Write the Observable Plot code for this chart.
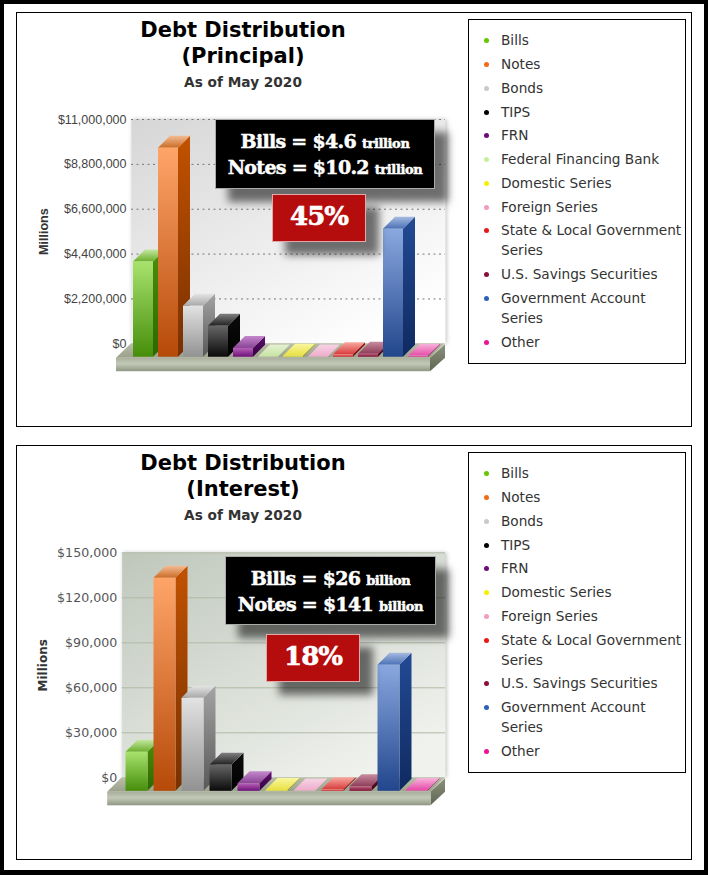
<!DOCTYPE html>
<html>
<head>
<meta charset="utf-8">
<script src="https://cdn.jsdelivr.net/npm/d3@7"></script>
<script src="https://cdn.jsdelivr.net/npm/@observablehq/plot@0.6"></script>
<style>
html,body{margin:0;padding:0;background:#000;}
#page{position:relative;width:708px;height:875px;overflow:hidden;background:#000;}
#sheet{position:absolute;left:4px;top:4px;width:700px;height:866px;background:#fff;}
.panel{position:absolute;left:16px;width:674px;height:413px;border:1px solid #000;background:#fff;}
.title{position:absolute;left:16px;width:454px;text-align:center;font:bold 21px/25.5px "DejaVu Sans",sans-serif;color:#000;}
.sub{position:absolute;left:16px;width:454px;text-align:center;font:bold 13.7px/16px "DejaVu Sans",sans-serif;color:#333;}
.legend{position:absolute;left:468px;width:216px;border:1px solid #000;background:#fff;box-sizing:content-box;}
.legend div{position:absolute;left:32px;width:186px;font:13.65px/20px "DejaVu Sans",sans-serif;color:#333;}
.legend i{position:absolute;left:-17px;top:8px;width:5px;height:5px;border-radius:50%;}
.chart{position:absolute;left:20px;}
.chart svg{overflow:visible;display:block;}
.callout{position:absolute;box-sizing:border-box;background:#000;border:1px solid #aaa;color:#fff;text-align:center;
  font:bold 19px/22.5px "DejaVu Serif",serif;letter-spacing:-.7px;-webkit-text-stroke:.5px #fff;box-shadow:13px 13px 8px rgba(0,0,0,.55);}
.callout small{font-size:13px;letter-spacing:-.4px;}
.pct{position:absolute;box-sizing:border-box;background:#b50d0d;border:1px solid #e3a9a9;color:#fff;text-align:center;
  font:bold 26px/42px "DejaVu Serif",serif;letter-spacing:-1px;-webkit-text-stroke:.6px #fff;box-shadow:13px 13px 8px rgba(0,0,0,.55);}
</style>
</head>
<body>
<div id="page"><div id="sheet"></div></div>
<script>
// ---------- data ----------
const principalCategories = ["Bills","Notes","Bonds","TIPS","FRN","Federal Financing Bank","Domestic Series","Foreign Series","State & Local Government Series","U.S. Savings Securities","Government Account Series","Other"];
const principalValues = [4670000,10250000,2500000,1520000,430000,10000,50000,10000,120000,150000,6270000,50000];
const principalTicks = [0,2200000,4400000,6600000,8800000,11000000];

const interestCategories = ["Bills","Notes","Bonds","TIPS","FRN","Domestic Series","Foreign Series","State & Local Government Series","U.S. Savings Securities","Government Account Series","Other"];
const interestValues = [26000,142000,62000,17400,5000,500,200,1000,3000,84000,500];
const interestTicks = [0,30000,60000,90000,120000,150000];

// name: dot, front top, front bottom, side top, side bottom, top back, top front
const palette = {
  "Bills":["#66c400","#a8e26e","#468e0a","#4c8e08","#2c6800","#c4e8a0","#6aae2a"],
  "Notes":["#f26a13","#ffa56a","#b64a08","#c25200","#783000","#f2bc94","#cc6c24"],
  "Bonds":["#c9c9c9","#e2e2e2","#929292","#a4a4a4","#585858","#e4e4e4","#a8a8a8"],
  "TIPS":["#000000","#666666","#0a0a0a","#0c0c0c","#000000","#808080","#222222"],
  "FRN":["#6e0a78","#b860b8","#6e107a","#621070","#30003e","#c488cc","#8a4496"],
  "Federal Financing Bank":["#c6f0a0","#e0f0c4","#c2e084","#c8dca8","#a4c080","#e4f0d0","#c8e4a4"],
  "Domestic Series":["#f6f000","#fbf88a","#e4dc20","#b0a818","#807810","#faf7a0","#e8e040"],
  "Foreign Series":["#f39ac0","#f8c4dc","#eea2c2","#c48aa4","#a06c84","#f6d4e4","#eeaccb"],
  "State & Local Government Series":["#e81818","#f88484","#d02424","#a01818","#701010","#f8a8a0","#d83c3c"],
  "U.S. Savings Securities":["#8c0f3c","#c06484","#801034","#601028","#400818","#c88ca0","#8e3c58"],
  "Government Account Series":["#2d60b8","#8aa8e0","#22468c","#224a94","#102a60","#a4badf","#4a70b6"],
  "Other":["#ec1296","#f8a4d2","#de2494","#a8186c","#780c4c","#f8b4dc","#e44ca8"]
};

const principalLegendLines = [40,64,88,112,135,159,183,207,230,274,298,342];
const interestLegendLines = [473,497,521,545,568,592,616,640,683,707,751];
const principalCallout = [["Bills = $4.6","trillion"],["Notes = $10.2","trillion"]];
const interestCallout = [["Bills = $26","billion"],["Notes = $141","billion"]];

// ---------- helpers ----------
const page = document.getElementById("page");
const add = (cls, css, html) => {
  const d = document.createElement("div");
  d.className = cls; d.style.cssText = css; if (html != null) d.innerHTML = html;
  page.appendChild(d); return d;
};
const esc = s => s.replace(/&/g,"&amp;");

function stopGrad(defs, id, c1, c2, x2=0, y2=1) {
  const g = defs.append("linearGradient").attr("id",id).attr("x1",0).attr("y1",0).attr("x2",x2).attr("y2",y2);
  g.append("stop").attr("offset",0).attr("stop-color",c1);
  g.append("stop").attr("offset",1).attr("stop-color",c2);
}

function chart(cfg) {
  const {prefix, cats, vals, ticks, domainMax, box, wall, grid, gridDash, axisFont, axisSize, axisColor, labelFont, labelSize, barRange, offX, offY} = cfg;
  const key = c => prefix + "-" + cats.indexOf(c);
  const valOf = new Map(cats.map((c,i)=>[c,vals[i]]));
  const depth = 12;
  const defsMark = () => {
    const defs = d3.create("svg:defs");
    stopGrad(defs, prefix+"-wall", wall[0], wall[1], .75, 1);
    stopGrad(defs, prefix+"-floor-top", "#b8bea8", "#9aa08a");
    const f = defs.append("linearGradient").attr("id",prefix+"-floor").attr("x1",0).attr("y1",0).attr("x2",0).attr("y2",1);
    [[0,"#a9af9b"],[.45,"#c3c9b7"],[1,"#8f9683"]].forEach(([o,c])=>f.append("stop").attr("offset",o).attr("stop-color",c));
    stopGrad(defs, prefix+"-floor-side", "#8b917b", "#5f6654");
    cats.forEach(c=>{
      const p = palette[c];
      stopGrad(defs, key(c)+"-front", p[1], p[2]);
      stopGrad(defs, key(c)+"-side", p[3], p[4]);
      stopGrad(defs, key(c)+"-top", p[5], p[6]);
    });
    return defs.node();
  };
  const floorMark = (index, {y}, values, {width,height,marginLeft,marginRight}) => {
    const g = d3.create("svg:g");
    const x0 = marginLeft, x1 = width - marginRight, b = y(0);
    const fx0 = x0 + offX, fx1 = x1 + offX, fy = b + offY + 1, h = 13.5;
    g.append("polygon").attr("fill",`url(#${prefix}-floor-top)`).attr("points",`${x0},${b} ${x1},${b} ${fx1},${fy} ${fx0},${fy}`);
    g.append("polygon").attr("fill",`url(#${prefix}-floor-side)`).attr("points",`${fx1},${fy} ${x1},${b+1} ${x1},${b+1+h} ${fx1},${fy+h}`);
    g.append("rect").attr("fill",`url(#${prefix}-floor)`).attr("x",fx0).attr("y",fy).attr("width",fx1-fx0).attr("height",h);
    return g.node();
  };
  const facesMark = (index, {x,y}) => {
    const g = d3.create("svg:g");
    const w = x.bandwidth();
    cats.forEach(c=>{
      const l = x(c)+offX, r = l+w, t = y(valOf.get(c))+offY, b = y(0)+offY;
      g.append("polygon").attr("fill",`url(#${key(c)}-side)`)
        .attr("points",`${r},${t} ${r+depth},${t-depth} ${r+depth},${b-depth} ${r},${b}`);
      g.append("polygon").attr("fill",`url(#${key(c)}-top)`)
        .attr("points",`${l},${t} ${l+depth},${t-depth} ${r+depth},${t-depth} ${r},${t}`);
    });
    return g.node();
  };
  return Plot.plot({
    width: box.width, height: box.height,
    marginLeft: box.left, marginRight: box.right, marginTop: box.top, marginBottom: box.bottom,
    style: {background:"transparent", overflow:"visible"},
    x: {domain: cats, range: barRange, padding: 0, paddingInner: .2, paddingOuter: 0, axis: null},
    y: {domain: [0, domainMax], axis: null},
    color: {type:"identity"},
    marks: [
      defsMark,
      Plot.frame({fill:`url(#${prefix}-wall)`, stroke:"none", imageFilter:"drop-shadow(1.5px 0 2px #bdbdbd)"}),
      Plot.ruleY(ticks.slice(1), {stroke:grid, strokeWidth:1, strokeDasharray:gridDash}),
      floorMark,
      facesMark,
      Plot.barY(cats, {x:d=>d, y:d=>valOf.get(d), fill:d=>`url(#${key(d)}-front)`, dx:offX, dy:offY}),
      Plot.axisY(ticks, {tickSize:0, tickPadding:5, tickFormat:d3.format("$,"), label:null, fontSize:axisSize, fontFamily:axisFont, color:axisColor}),
      Plot.text(["Millions"], {text:d=>d, frameAnchor:"left", textAnchor:"middle", dx:cfg.labelDx, rotate:-90, fontWeight:"bold", fontSize:labelSize, fontFamily:labelFont, fill:"#333"})
    ]
  });
}

function section(s) {
  add("panel", `top:${s.panelTop}px`);
  add("title", `top:${s.titleTop}px`, `Debt Distribution<br>(${s.name})`);
  add("sub", `top:${s.titleTop+56}px`, "As of May 2020");
  const el = add("chart", `top:${s.chartTop}px`);
  el.appendChild(chart(s.cfg));
  add("callout", `left:${s.black[0]}px;top:${s.black[1]}px;width:${s.black[2]}px;height:${s.black[3]}px;padding-top:10px`,
    s.callout.map(([a,b])=>`${a} <small>${b}</small>`).join("<br>"));
  add("pct", `left:${s.red[0]}px;top:${s.red[1]}px;width:${s.red[2]}px;height:${s.red[3]}px;`, s.pct);
  const leg = add("legend", `top:${s.legend[0]}px;height:${s.legend[1]}px`);
  s.cfg.cats.forEach((c,i)=>{
    const d = document.createElement("div");
    d.style.top = (s.lines[i]-10-s.legend[0]-1)+"px";
    d.innerHTML = `<i style="background:${palette[c][0]}"></i>${esc(c)}`;
    leg.appendChild(d);
  });
}

section({
  name:"Principal", panelTop:12, titleTop:18, chartTop:100,
  legend:[19,343], lines:principalLegendLines,
  callout:principalCallout, pct:"45%",
  black:[215,119,220,70], red:[272,194,94,48],
  cfg:{prefix:"p", cats:principalCategories, vals:principalValues, ticks:principalTicks, domainMax:11000000,
    box:{width:440,height:290,left:111,right:15,top:19,bottom:46.7},
    wall:["#d6d6d6","#ffffff"], grid:"#777", gridDash:"2,3.5",
    axisFont:"Liberation Sans", axisSize:12.5, axisColor:"#444", labelFont:"Liberation Sans", labelSize:12.6, labelDx:-88,
    barRange:[127.4,424.2], offX:-15, offY:13.4}
});
section({
  name:"Interest", panelTop:445, titleTop:451, chartTop:535,
  legend:[452,319], lines:interestLegendLines,
  callout:interestCallout, pct:"18%",
  black:[225,556,211,69], red:[266,634,94,48],
  cfg:{prefix:"i", cats:interestCategories, vals:interestValues, ticks:interestTicks, domainMax:150000,
    box:{width:440,height:290,left:101.7,right:15,top:17.3,bottom:47.7},
    wall:["#bfc7bb","#f0f2ee"], grid:"#b2baa6", gridDash:"none",
    axisFont:"DejaVu Sans", axisSize:12.6, axisColor:"#555", labelFont:"DejaVu Sans", labelSize:12, labelDx:-78.7,
    barRange:[119.3,423.8], offX:-14.5, offY:13.5}
});
</script>
</body>
</html>
